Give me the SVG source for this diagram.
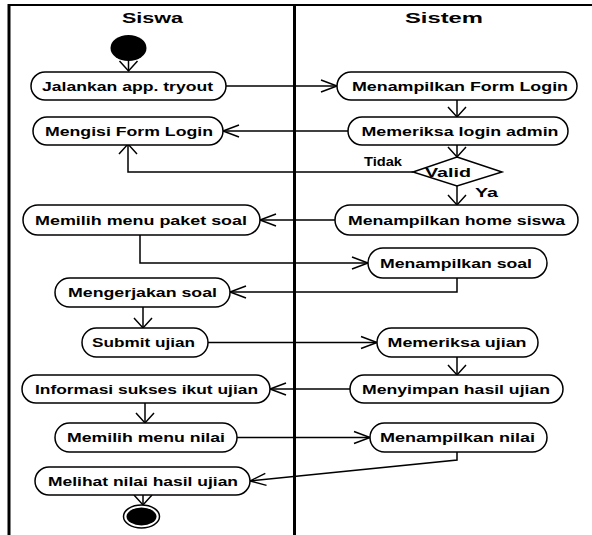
<svg xmlns="http://www.w3.org/2000/svg" width="592" height="535" viewBox="0 0 592 535">
<defs>
<style>
.node rect{fill:#fff;stroke:#000;stroke-width:1.5}
.node text,.lbl{font-family:"Liberation Sans",Arial,sans-serif;font-weight:bold;font-size:12.5px;fill:#000;text-anchor:middle}
.title{font-family:"Liberation Sans",Arial,sans-serif;font-weight:bold;font-size:15px;fill:#000;text-anchor:middle}
.lane{stroke:#000;fill:none}
#connectors path{fill:none;stroke:#000;stroke-width:1.5}
.h{marker-end:url(#ah)}
.v{marker-end:url(#av)}
</style>
<marker id="ah" markerUnits="userSpaceOnUse" viewBox="-17 -7 18 14" refX="0" refY="0" markerWidth="18" markerHeight="14" orient="auto" overflow="visible">
<path d="M-16,-6 L0,0 L-16,6" fill="none" stroke="#000" stroke-width="1.5"/>
</marker>
<marker id="av" markerUnits="userSpaceOnUse" viewBox="-11 -11 12 22" refX="0" refY="0" markerWidth="12" markerHeight="22" orient="auto" overflow="visible">
<path d="M-10,-9 L0,0 L-10,9" fill="none" stroke="#000" stroke-width="1.5"/>
</marker>
</defs>
<rect width="592" height="535" fill="#fff"/>
<g id="lanes">
<line class="lane" x1="8" y1="5" x2="592" y2="5" stroke-width="2"/>
<line class="lane" x1="9" y1="4" x2="9" y2="535" stroke-width="3"/>
<line class="lane" x1="294.5" y1="4" x2="294.5" y2="535" stroke-width="3"/>
<text class="title" x="152.5" y="23" textLength="61" lengthAdjust="spacingAndGlyphs">Siswa</text>
<text class="title" x="444" y="23" textLength="78" lengthAdjust="spacingAndGlyphs">Sistem</text>
</g>
<g id="connectors">
<path class="v" d="M128.5,61 V71"/>
<path class="h" d="M226,86 H337"/>
<path class="v" d="M457,100 V117"/>
<path class="h" d="M348,131 H223"/>
<path class="v" d="M457,145 V157"/>
<path class="v" d="M413,172 H128 V144"/>
<path class="v" d="M457,186 V205"/>
<path class="h" d="M335,220 H260"/>
<path class="h" d="M140,235 V263 H368"/>
<path class="h" d="M457,278 V292 H230"/>
<path class="v" d="M143,307 V328"/>
<path class="h" d="M208,342.5 H377"/>
<path class="v" d="M457,357 V375"/>
<path class="h" d="M350,389 H270"/>
<path class="v" d="M145,403 V423"/>
<path class="h" d="M237,437.5 H370"/>
<path class="h" d="M457,452 V460 L250,481"/>
<path class="v" d="M143,495 V505"/>
<text class="lbl" x="383" y="166" textLength="38" lengthAdjust="spacingAndGlyphs">Tidak</text>
<text class="lbl" x="486.5" y="197" textLength="23" lengthAdjust="spacingAndGlyphs">Ya</text>
</g>
<g id="start"><ellipse cx="128.5" cy="48" rx="18" ry="13" fill="#000"/></g>
<g id="n1" class="node"><rect x="31" y="72" width="195" height="28" rx="14"/><text x="127.5" y="90.5" textLength="171" lengthAdjust="spacingAndGlyphs">Jalankan app. tryout</text></g>
<g id="n2" class="node"><rect x="337" y="72" width="240" height="28" rx="14"/><text x="460" y="90.5" textLength="216" lengthAdjust="spacingAndGlyphs">Menampilkan Form Login</text></g>
<g id="n3" class="node"><rect x="33" y="117" width="190" height="28" rx="14"/><text x="129" y="135.5" textLength="168" lengthAdjust="spacingAndGlyphs">Mengisi Form Login</text></g>
<g id="n4" class="node"><rect x="348" y="117" width="220" height="28" rx="14"/><text x="460" y="135.5" textLength="197" lengthAdjust="spacingAndGlyphs">Memeriksa login admin</text></g>
<g id="decision" class="node"><polygon points="457,157 502,172 457,186 413,172" fill="#fff" stroke="#000" stroke-width="1.5"/><text x="448" y="176.5" textLength="46" lengthAdjust="spacingAndGlyphs">Valid</text></g>
<g id="n5" class="node"><rect x="335" y="205" width="243" height="30" rx="15"/><text x="456.5" y="224.5" textLength="217" lengthAdjust="spacingAndGlyphs">Menampilkan home siswa</text></g>
<g id="n6" class="node"><rect x="23" y="205" width="237" height="30" rx="15"/><text x="141" y="224.5" textLength="212" lengthAdjust="spacingAndGlyphs">Memilih menu paket soal</text></g>
<g id="n7" class="node"><rect x="368" y="248" width="179" height="30" rx="15"/><text x="456" y="267.5" textLength="152" lengthAdjust="spacingAndGlyphs">Menampilkan soal</text></g>
<g id="n8" class="node"><rect x="55" y="278" width="175" height="29" rx="14.5"/><text x="142.5" y="297" textLength="149" lengthAdjust="spacingAndGlyphs">Mengerjakan soal</text></g>
<g id="n9" class="node"><rect x="82" y="328" width="126" height="29" rx="14.5"/><text x="143.5" y="347" textLength="103" lengthAdjust="spacingAndGlyphs">Submit ujian</text></g>
<g id="n10" class="node"><rect x="377" y="328" width="161" height="29" rx="14.5"/><text x="457" y="347" textLength="139" lengthAdjust="spacingAndGlyphs">Memeriksa ujian</text></g>
<g id="n11" class="node"><rect x="350" y="375" width="213" height="28" rx="14"/><text x="456" y="393.5" textLength="188" lengthAdjust="spacingAndGlyphs">Menyimpan hasil ujian</text></g>
<g id="n12" class="node"><rect x="22" y="375" width="248" height="28" rx="14"/><text x="146.5" y="393.5" textLength="223" lengthAdjust="spacingAndGlyphs">Informasi sukses ikut ujian</text></g>
<g id="n13" class="node"><rect x="55" y="423" width="182" height="29" rx="14.5"/><text x="146" y="442" textLength="158" lengthAdjust="spacingAndGlyphs">Memilih menu nilai</text></g>
<g id="n14" class="node"><rect x="370" y="423" width="177" height="29" rx="14.5"/><text x="457.5" y="442" textLength="155" lengthAdjust="spacingAndGlyphs">Menampilkan nilai</text></g>
<g id="n15" class="node"><rect x="35" y="467" width="215" height="28" rx="14"/><text x="143" y="485.5" textLength="190" lengthAdjust="spacingAndGlyphs">Melihat nilai hasil ujian</text></g>
<g id="end"><ellipse cx="141.5" cy="516.5" rx="18" ry="11.5" fill="#fff" stroke="#000" stroke-width="1.5"/><ellipse cx="141.5" cy="516.5" rx="15" ry="9" fill="#000"/></g>
</svg>
